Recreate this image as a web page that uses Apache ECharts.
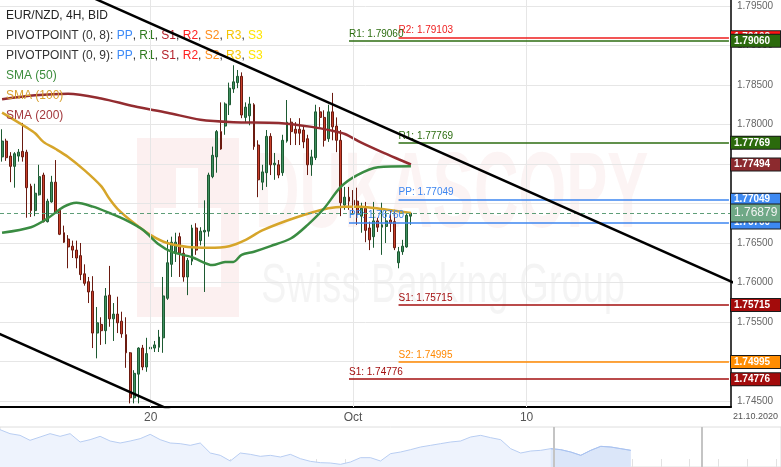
<!DOCTYPE html>
<html><head><meta charset="utf-8">
<script src="https://cdn.jsdelivr.net/npm/echarts@6/dist/echarts.min.js"></script>
<style>html,body{margin:0;padding:0;background:#fff}#c{width:781px;height:467px}</style>
</head><body><div id="c"></div>
<script>
// ---------- DATA ----------
const slotCount = 177;                 // 4H slots shown on the x axis (incl. future)
const xTickIdx = [36, 85, 127];
const xTickLabels = ['20', 'Oct', '10'];
const lastDateLabel = '21.10.2020';
const yMin = 1.74424, yMax = 1.79576;

// [open, close, low, high]
const candles = [
[1.7759,1.7779,1.7753,1.7794],[1.7779,1.7758,1.7754,1.7782],[1.7760,1.7747,1.7727,1.7765],[1.7747,1.7763,1.7720,1.7765],[1.7760,1.7765,1.7753,1.7769],
[1.7766,1.7759,1.7753,1.7802],[1.7765,1.7720,1.7682,1.7768],[1.7722,1.7691,1.7683,1.7725],[1.7691,1.7713,1.7684,1.7725],[1.7711,1.7734,1.7710,1.7749],
[1.7736,1.7677,1.7676,1.7739],[1.7677,1.7703,1.7676,1.7706],[1.7702,1.7727,1.7701,1.7735],[1.7727,1.7689,1.7688,1.7755],[1.7692,1.7661,1.7660,1.7694],
[1.7663,1.7651,1.7650,1.7672],[1.7655,1.7645,1.7618,1.7660],[1.7646,1.7641,1.7631,1.7653],[1.7641,1.7631,1.7618,1.7653],[1.7634,1.7610,1.7603,1.7650],
[1.7611,1.7599,1.7596,1.7623],[1.7601,1.7588,1.7574,1.7607],[1.7589,1.7536,1.7517,1.7608],[1.7536,1.7549,1.7504,1.7569],[1.7547,1.7539,1.7521,1.7556],
[1.7539,1.7583,1.7522,1.7593],[1.7584,1.7554,1.7544,1.7621],[1.7554,1.7560,1.7526,1.7574],[1.7560,1.7549,1.7536,1.7582],[1.7551,1.7535,1.7530,1.7563],
[1.7534,1.7511,1.7492,1.7556],[1.7511,1.7454,1.7447,1.7512],[1.7454,1.7485,1.7447,1.7489],[1.7484,1.7517,1.7447,1.7518],[1.7517,1.7493,1.7489,1.7521],
[1.7493,1.7510,1.7487,1.7530],[1.7516,1.7518,1.7487,1.7534],[1.7517,1.7521,1.7512,1.7526],[1.7518,1.7531,1.7512,1.7540],[1.7530,1.7583,1.7511,1.7607],
[1.7580,1.7625,1.7578,1.7654],[1.7623,1.7651,1.7607,1.7658],[1.7637,1.7651,1.7626,1.7663],[1.7658,1.7637,1.7607,1.7663],[1.7637,1.7607,1.7601,1.7644],
[1.7607,1.7628,1.7584,1.7631],[1.7627,1.7669,1.7622,1.7673],[1.7669,1.7641,1.7635,1.7675],[1.7653,1.7665,1.7647,1.7670],[1.7664,1.7666,1.7588,1.7704],
[1.7665,1.7736,1.7658,1.7739],[1.7734,1.7761,1.7732,1.7772],[1.7759,1.7791,1.7739,1.7793],[1.7791,1.7769,1.7768,1.7828],[1.7798,1.7826,1.7787,1.7828],
[1.7825,1.7846,1.7812,1.7853],[1.7845,1.7854,1.7840,1.7875],[1.7853,1.7861,1.7846,1.7869],[1.7861,1.7812,1.7808,1.7866],[1.7809,1.7822,1.7803,1.7828],
[1.7811,1.7826,1.7799,1.7835],[1.7825,1.7772,1.7768,1.7827],[1.7774,1.7730,1.7708,1.7780],[1.7727,1.7740,1.7717,1.7749],[1.7739,1.7785,1.7721,1.7793],
[1.7785,1.7749,1.7736,1.7789],[1.7749,1.7751,1.7730,1.7764],[1.7749,1.7736,1.7732,1.7755],[1.7739,1.7780,1.7735,1.7787],[1.7779,1.7803,1.7777,1.7831],
[1.7803,1.7791,1.7774,1.7808],[1.7794,1.7789,1.7774,1.7803],[1.7794,1.7789,1.7774,1.7808],[1.7793,1.7778,1.7770,1.7797],[1.7782,1.7749,1.7736,1.7787],
[1.7749,1.7759,1.7735,1.7768],[1.7758,1.7816,1.7755,1.7825],[1.7816,1.7809,1.7797,1.7822],[1.7809,1.7780,1.7772,1.7818],[1.7782,1.7816,1.7778,1.7825],
[1.7816,1.7797,1.7780,1.7840],[1.7798,1.7780,1.7765,1.7809],[1.7780,1.7701,1.7684,1.7793],[1.7698,1.7708,1.7692,1.7721],[1.7708,1.7703,1.7692,1.7721],
[1.7704,1.7698,1.7688,1.7717],[1.7703,1.7687,1.7673,1.7720],[1.7684,1.7694,1.7663,1.7701],[1.7694,1.7666,1.7651,1.7702],[1.7669,1.7654,1.7641,1.7677],
[1.7658,1.7678,1.7644,1.7702],[1.7678,1.7670,1.7664,1.7682],[1.7670,1.7673,1.7635,1.7701],[1.7671,1.7678,1.7650,1.7691],[1.7679,1.7675,1.7664,1.7692],
[1.7677,1.7644,1.7641,1.7692],[1.7625,1.7639,1.7618,1.7645],[1.7639,1.7646,1.7635,1.7654],[1.7645,1.7685,1.7644,1.7689],[1.7684,1.76879,1.7673,1.7689]
];

// moving averages: [slot index, value]
const sma50 = [[0,1.7663],[7,1.7670],[11,1.7681],[15,1.7696],[18,1.7701],[22,1.7696],[26,1.7688],[30,1.7679],[34,1.7667],[38,1.7648],[41,1.7639],[46,1.7632],[51,1.7622],[54,1.7626],[56,1.7626],[58,1.7635],[61,1.7639],[65,1.7646],[70,1.7656],[74,1.7673],[78,1.7694],[82,1.7721],[86,1.7736],[91,1.7746],[99,1.7747]];
const sma100 = [[0,1.7815],[6,1.7796],[8,1.7789],[10,1.7778],[13,1.7769],[16,1.7759],[20,1.7742],[24,1.7722],[26,1.7706],[28,1.7693],[32,1.7675],[36,1.7660],[40,1.7650],[45,1.7645],[50,1.7644],[55,1.7646],[59,1.7654],[63,1.7666],[71,1.7682],[79,1.7694],[83,1.7696],[87,1.7696],[92,1.7693],[99,1.7688]];
const sma200 = [[0,1.7832],[8,1.7837],[16,1.7839],[24,1.7833],[32,1.7823],[40,1.7815],[48,1.7806],[56,1.7803],[67,1.7802],[75,1.7797],[80,1.7792],[83,1.7788],[87,1.7777],[92,1.7765],[96,1.7756],[99,1.77494]];

// trend lines: [slot index, value]
const upperTrend = [[20,1.7965],[180,1.7593]];
const lowerTrend = [[-2,1.7538],[44,1.7431]];

// pivot levels
const pivotNames  = ['R2','R1','R1','PP','PP','S1','S2','S1'];
const pivotValues = [1.79103,1.79060,1.77769,1.77049,1.76760,1.75715,1.74995,1.74776];
const pivotStart  = [96,84,96,96,84,96,96,84];
const sma200Last = 1.77494;
const lastClose = 1.76879;

// navigator (overview) values
const navValues = [112,100,95,80,90,100,92,100,75,82,92,78,72,78,85,98,82,72,70,65,72,42,35,18,42,38,32,35,30,38,25,17,13,12,8,15,28,28,18,40,45,52,60,65,70,75,78,90,95,88,82,55,42,48,50,55,52,45,35,50,62,60,55,50];
const navWindow = [55.3, 70.1];
const navSelStart = 55;

// ---------- STYLE ----------
const FONT = '"Liberation Sans", Arial, sans-serif';
const lineCol = {PP:'#3d86f0', R1:'#2c6d10', S1:'#a30f0f', R2:'#ee1d1d', S2:'#ff8800'};
const boxCol  = {PP:'#3d89f2', R1:'#2b6a0c', S1:'#a30b0b', R2:'#ff1515', S2:'#ff8c00', SMA:'#8c2a2e', CUR:'#6fa886'};
const legendCol = {PP:'#3d8af7', R1:'#2f7a1f', S1:'#b3202a', R2:'#ff2020', S2:'#ff8c1a', R3:'#f5c400', S3:'#ffe600'};

const cats = Array.from({length: slotCount}, (_, i) => String(i));

function boxLabel(text, bg, big) {
  return {show:true, position:'end', distance:0, formatter:text, backgroundColor:bg,
    color: big ? '#f2f2f2' : '#fff', fontWeight: big ? 'normal' : 'bold', fontFamily: FONT,
    fontSize: big ? 12 : 10, lineHeight: big ? 15 : 11, padding: big ? [1,2,1,3] : [1,3,0,3],
    width: big ? 44 : 43, borderColor:'#1a1a1a', borderWidth:1};
}
const hiddenLine = {color:'rgba(0,0,0,0)', width:1, type:'solid'};

const pivotLineItems = pivotValues.map((v, k) => [
  {coord:[pivotStart[k], v], lineStyle:{color:lineCol[pivotNames[k]], width:1.5, type:'solid'},
   label:{show:true, position:'insideStartTop', distance:[0,2], formatter: pivotNames[k] + ': ' + v.toFixed(5),
          color:lineCol[pivotNames[k]], fontSize:10, fontFamily:FONT}},
  {coord:[slotCount-1, v]}
]);
const boxItems = [];
pivotValues.forEach((v, k) => {
  boxItems.push({yAxis:v, lineStyle:hiddenLine, label: boxLabel(v.toFixed(5), boxCol[pivotNames[k]], false)});
  if (k === 2) boxItems.push({yAxis:sma200Last, lineStyle:hiddenLine, label: boxLabel(sma200Last.toFixed(5), boxCol.SMA, false)});
});
boxItems.push({yAxis:lastClose, lineStyle:{color:'#5e9e78', width:1, type:[4,3]}, label: boxLabel(lastClose.toFixed(5), boxCol.CUR, true)});

const pivotKeys = ['PP','R1','S1','R2','S2','R3','S3'];
const rich = {t:{fill:'#333', fontSize:12, fontFamily:FONT}};
pivotKeys.forEach(k => rich[k] = {fill:legendCol[k], fontSize:12, fontFamily:FONT});
const pivotLegend = p => '{t|PIVOTPOINT (' + p + '): }' + pivotKeys.map(k => '{' + k + '|' + k + '}').join('{t|, }');
function legendText(y, text, fill, useRich) {
  const st = {text, fill, font:'12px ' + FONT, verticalAlign:'middle'};
  if (useRich) st.rich = rich;
  return {type:'text', x:6, y, z:4, silent:true, style:st};
}

const option = {
  animation:false,
  backgroundColor:'#fff',
  textStyle:{fontFamily:FONT},
  grid:[
    {left:0, right:50, top:0, bottom:60, show:false},
    {left:-1, right:-1, top:427, height:41, show:true, borderColor:'#dedede', borderWidth:1}
  ],
  xAxis:[
    {type:'category', gridIndex:0, data:cats, boundaryGap:true,
     axisLine:{show:true, lineStyle:{color:'#000', width:2}}, axisTick:{show:false}, splitLine:{show:false},
     axisLabel:{interval:(i) => xTickIdx.includes(i), formatter:(v, i) => xTickLabels[xTickIdx.indexOf(i)] || '',
                color:'#555', fontSize:12, margin:5}},
    {type:'value', gridIndex:1, min:0, max:78, interval:2.87,
     axisLine:{show:false}, axisLabel:{show:false}, splitLine:{show:false},
     axisTick:{show:true, inside:true, length:8, lineStyle:{color:'#e2e2e2'}}}
  ],
  yAxis:[
    {type:'value', gridIndex:0, position:'right', min:yMin, max:yMax, splitNumber:10,
     axisLine:{show:true, lineStyle:{color:'#000', width:1.5}}, axisTick:{show:false},
     axisLabel:{color:'#666', fontSize:10, margin:6, showMinLabel:false, showMaxLabel:false, formatter:v => v.toFixed(5)},
     splitLine:{show:true, showMinLine:false, showMaxLine:false, lineStyle:{color:'#e6e6e6', width:1}}},
    {type:'value', gridIndex:1, min:0, max:120, show:false}
  ],
  graphic:{elements:[
    {type:'rect', z:-10, silent:true, shape:{x:137, y:138, width:102, height:179}, style:{fill:'#fcf0f0'}},
    {type:'rect', z:-9, silent:true, shape:{x:176, y:168, width:22, height:119}, style:{fill:'#fff'}},
    {type:'rect', z:-9, silent:true, shape:{x:154, y:208, width:67, height:79}, style:{fill:'#fff'}},
    {type:'text', z:-9, silent:true, x:255, y:197, scaleX:0.57, style:{text:'DUKASCOPY', font:'bold 108px ' + FONT, fill:'rgba(200,70,70,0.06)', verticalAlign:'middle'}},
    {type:'text', z:-9, silent:true, x:261, y:287, scaleX:0.68, style:{text:'Swiss Banking Group', font:'56px ' + FONT, fill:'rgba(0,0,0,0.045)', verticalAlign:'middle'}},
    legendText(16, 'EUR/NZD, 4H, BID', '#222', false),
    legendText(36, pivotLegend('0, 8'), '#333', true),
    legendText(56, pivotLegend('0, 9'), '#333', true),
    legendText(76, 'SMA (50)', '#3c8c3c', false),
    legendText(96, 'SMA (100)', '#d8a030', false),
    legendText(116, 'SMA (200)', '#a3383c', false),
    {type:'text', x:733, y:417, silent:true, style:{text:lastDateLabel, font:'9px ' + FONT, fill:'#555', verticalAlign:'middle'}}
  ]},
  series:[
    {name:'vgrid', type:'line', data:[], z:1, silent:true,
     markLine:{silent:true, symbol:['none','none'], label:{show:false},
               lineStyle:{color:'#e6e6e6', width:1, type:'solid'},
               data: xTickIdx.map(i => ({xAxis:i}))}},
    {name:'EUR/NZD', type:'candlestick', data:candles, barWidth:2.4, z:2,
     itemStyle:{color:'#3f8f5f', color0:'#c9402b', borderColor:'#1d5a32', borderColor0:'#6a1a10', borderWidth:1}},
    {name:'SMA (200)', type:'line', data:sma200, smooth:0.3, symbol:'none', z:3, lineStyle:{color:'#932c30', width:2.5}},
    {name:'SMA (100)', type:'line', data:sma100, smooth:0.3, symbol:'none', z:3, lineStyle:{color:'#d6a52a', width:2.5}},
    {name:'SMA (50)', type:'line', data:sma50, smooth:0.3, symbol:'none', z:3, lineStyle:{color:'#3a8c42', width:2.5}},
    {name:'pivots', type:'line', data:[], z:4, silent:true,
     markLine:{silent:true, precision:5, symbol:['none','none'], data:[...pivotLineItems, ...boxItems]}},
    {name:'trendUp', type:'line', data:upperTrend, symbol:'none', z:6, clip:true, lineStyle:{color:'#000', width:2.5}},
    {name:'trendDown', type:'line', data:lowerTrend, symbol:'none', z:6, clip:true, lineStyle:{color:'#000', width:2.5}},
    {name:'nav', type:'line', xAxisIndex:1, yAxisIndex:1, data:navValues.map((v, j) => [j, v]), symbol:'none',
     lineStyle:{color:'#b8cdf2', width:1}, areaStyle:{color:'#eef3fd', opacity:1},
     markLine:{silent:true, precision:3, symbol:['none','none'], label:{show:false}, lineStyle:{color:'#c4c4c4', width:2, type:'solid'},
               data: navWindow.map(x => ({xAxis:x}))}},
    {name:'navSel', type:'line', xAxisIndex:1, yAxisIndex:1,
     data:navValues.map((v, j) => [j, v]).slice(navSelStart), symbol:'none',
     lineStyle:{color:'#a9c2f0', width:1}, areaStyle:{color:'#dbe6f9', opacity:1}}
  ]
};
const chart = echarts.init(document.getElementById('c'));
chart.setOption(option);
</script></body></html>
